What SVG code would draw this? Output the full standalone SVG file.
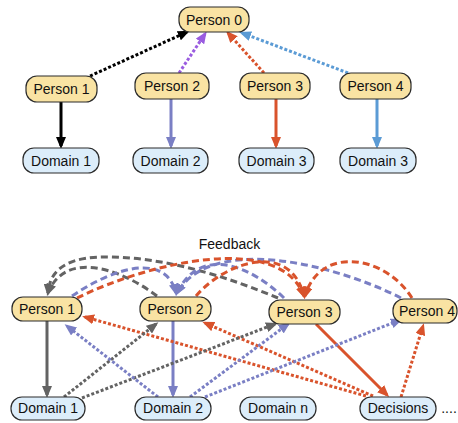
<svg xmlns="http://www.w3.org/2000/svg" width="458" height="423" viewBox="0 0 458 423">
<style>
.person{fill:#f9e3a3;stroke:#2b2b2b;stroke-width:1.2}
.domain{fill:#dcedfa;stroke:#2b2b2b;stroke-width:1.2}
text{font-family:"Liberation Sans",Arial,sans-serif;font-size:14px;fill:#111;text-anchor:middle}
.e{fill:none;stroke-width:3}
.dot{stroke-dasharray:3 2}
.dash{stroke-dasharray:7 4}
.k{stroke:#000}.pu{stroke:#9a5ce0}.r{stroke:#d9532c}.b{stroke:#5b9bd5}.p{stroke:#7a7fc4}.g{stroke:#636363}
</style>
<defs>
<marker id="mk" viewBox="0 0 12 10" refX="9" refY="5" markerWidth="12" markerHeight="10" markerUnits="userSpaceOnUse" orient="auto"><path d="M0,0L12,5L0,10z" fill="#000"/></marker>
<marker id="mpu" viewBox="0 0 12 10" refX="9" refY="5" markerWidth="12" markerHeight="10" markerUnits="userSpaceOnUse" orient="auto"><path d="M0,0L12,5L0,10z" fill="#9a5ce0"/></marker>
<marker id="mr" viewBox="0 0 12 10" refX="9" refY="5" markerWidth="12" markerHeight="10" markerUnits="userSpaceOnUse" orient="auto"><path d="M0,0L12,5L0,10z" fill="#d9532c"/></marker>
<marker id="mb" viewBox="0 0 12 10" refX="9" refY="5" markerWidth="12" markerHeight="10" markerUnits="userSpaceOnUse" orient="auto"><path d="M0,0L12,5L0,10z" fill="#5b9bd5"/></marker>
<marker id="mp" viewBox="0 0 12 10" refX="9" refY="5" markerWidth="12" markerHeight="10" markerUnits="userSpaceOnUse" orient="auto"><path d="M0,0L12,5L0,10z" fill="#7a7fc4"/></marker>
<marker id="mg" viewBox="0 0 12 10" refX="9" refY="5" markerWidth="12" markerHeight="10" markerUnits="userSpaceOnUse" orient="auto"><path d="M0,0L12,5L0,10z" fill="#636363"/></marker>
</defs>
<g id="connectors">
<!-- top -->
<path class="e dot k" d="M90,76L187,32" marker-end="url(#mk)"/>
<path class="e dot pu" d="M179,73L205,34" marker-end="url(#mpu)"/>
<path class="e dot r" d="M264,73L228,33" marker-end="url(#mr)"/>
<path class="e dot b" d="M348,73L242,33" marker-end="url(#mb)"/>
<path class="e k" d="M61,102L61,146" marker-end="url(#mk)"/>
<path class="e p" d="M171,99L171,146" marker-end="url(#mp)"/>
<path class="e r" d="M276,99L276,146" marker-end="url(#mr)"/>
<path class="e b" d="M377,99L377,146" marker-end="url(#mb)"/>
<!-- bottom solid -->
<path class="e g" d="M47,321L47,395" marker-end="url(#mg)"/>
<path class="e p" d="M173,321L173,395" marker-end="url(#mp)"/>
<path class="e r" d="M316,324L387,395" marker-end="url(#mr)"/>
<!-- bottom dotted -->
<path class="e dot r" d="M401,397L423,326" marker-end="url(#mr)"/>
<path class="e dot r" d="M366,396L85,317" marker-end="url(#mr)"/>
<path class="e dot r" d="M373,396L205,323" marker-end="url(#mr)"/>
<path class="e dot g" d="M64,397L156,324" marker-end="url(#mg)"/>
<path class="e dot g" d="M82,398L275,324" marker-end="url(#mg)"/>
<path class="e dot p" d="M158,397L67,326" marker-end="url(#mp)"/>
<path class="e dot p" d="M190,397L288,324" marker-end="url(#mp)"/>
<path class="e dot p" d="M205,397L400,320" marker-end="url(#mp)"/>
<!-- feedback arcs -->
<path class="e dash g" d="M157,296C120,268 65,250 48,293" marker-end="url(#mg)"/>
<path class="e dash g" d="M278,298C230,278 170,258 110,257C75,256 50,265 48,293" marker-end="url(#mg)"/>
<path class="e dash p" d="M72,296C110,270 165,250 176,293" marker-end="url(#mp)"/>
<path class="e dash p" d="M284,298C250,265 200,245 177,293" marker-end="url(#mp)"/>
<path class="e dash p" d="M401,298C330,262 210,235 177,293" marker-end="url(#mp)"/>
<path class="e dash r" d="M77,298C150,262 280,232 304,296" marker-end="url(#mr)"/>
<path class="e dash r" d="M196,296C225,262 290,240 304,296" marker-end="url(#mr)"/>
<path class="e dash r" d="M412,298C385,255 320,245 305,296" marker-end="url(#mr)"/>
</g>
<g id="person0"><rect class="person" x="179" y="7" width="70" height="25" rx="11"/><text x="214" y="25">Person 0</text></g>
<g id="person1-top"><rect class="person" x="26" y="76" width="71" height="26" rx="11"/><text x="61.5" y="94">Person 1</text></g>
<g id="person2-top"><rect class="person" x="135" y="73" width="74" height="26" rx="11"/><text x="172" y="91">Person 2</text></g>
<g id="person3-top"><rect class="person" x="240" y="73" width="70" height="26" rx="11"/><text x="275" y="91">Person 3</text></g>
<g id="person4-top"><rect class="person" x="340" y="73" width="71" height="26" rx="11"/><text x="375.5" y="91">Person 4</text></g>
<g id="domain1-top"><rect class="domain" x="23" y="148" width="76" height="25" rx="11"/><text x="61" y="166">Domain 1</text></g>
<g id="domain2-top"><rect class="domain" x="133" y="148" width="75" height="25" rx="11"/><text x="170.5" y="166">Domain 2</text></g>
<g id="domain3-top"><rect class="domain" x="239" y="148" width="75" height="25" rx="11"/><text x="276.5" y="166">Domain 3</text></g>
<g id="domain3b-top"><rect class="domain" x="340" y="148" width="76" height="25" rx="11"/><text x="378" y="166">Domain 3</text></g>
<text x="229.5" y="249">Feedback</text>
<g id="person1"><rect class="person" x="12" y="297" width="70" height="24" rx="11"/><text x="47" y="314">Person 1</text></g>
<g id="person2"><rect class="person" x="140" y="297" width="71" height="24" rx="11"/><text x="175.5" y="314">Person 2</text></g>
<g id="person3"><rect class="person" x="269" y="300" width="71" height="24" rx="11"/><text x="304.5" y="317">Person 3</text></g>
<g id="person4"><rect class="person" x="393" y="299" width="64" height="24" rx="11"/><text x="427" y="316">Person 4</text></g>
<g id="domain1"><rect class="domain" x="11" y="397" width="74" height="23" rx="11"/><text x="48" y="413">Domain 1</text></g>
<g id="domain2"><rect class="domain" x="135" y="397" width="76" height="23" rx="11"/><text x="173" y="413">Domain 2</text></g>
<g id="domainn"><rect class="domain" x="240" y="397" width="76" height="23" rx="11"/><text x="278" y="413">Domain n</text></g>
<g id="decisions"><rect class="domain" x="360" y="397" width="76" height="23" rx="11"/><text x="398" y="413">Decisions</text></g>
<text x="449" y="413">....</text>
</svg>
